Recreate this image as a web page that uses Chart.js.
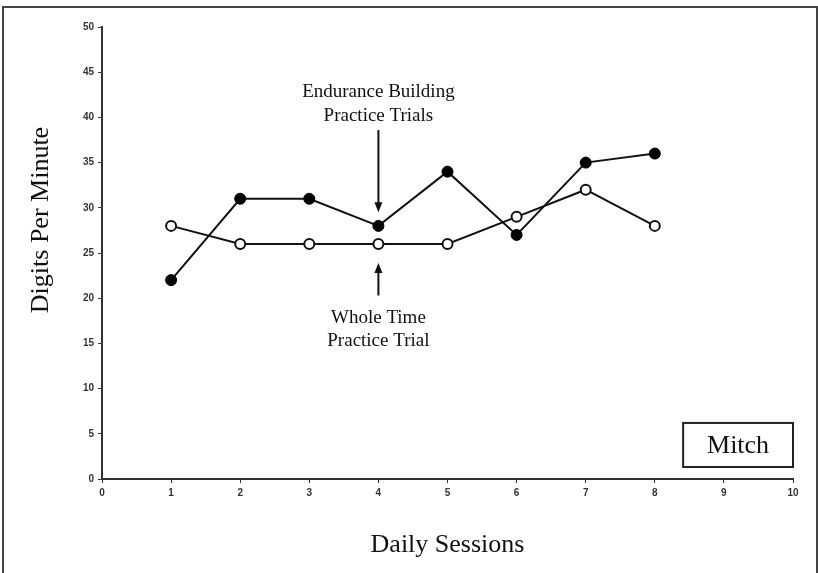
<!DOCTYPE html>
<html>
<head>
<meta charset="utf-8">
<script src="https://cdn.jsdelivr.net/npm/chart.js@4.4.1/dist/chart.umd.min.js"></script>
<style>
  html, body { margin: 0; padding: 0; background: #fff; }
  canvas { display: block; }
</style>
</head>
<body>
<canvas id="myChart" width="818" height="573"></canvas>
<script>
// 데이터 (Mitch, 일일 세션별 분당 숫자 수)
const sessions = [1, 2, 3, 4, 5, 6, 7, 8];
const enduranceScores = [22, 31, 31, 28, 34, 27, 35, 36]; // 채운 원
const wholeTimeScores = [28, 26, 26, 26, 26, 29, 32, 28]; // 빈 원
const xTicks = [0, 1, 2, 3, 4, 5, 6, 7, 8, 9, 10];
const yTicks = [0, 5, 10, 15, 20, 25, 30, 35, 40, 45, 50];

const serif = "'Liberation Serif', 'Times New Roman', serif";
const ink = '#111';

function toPoints(values){
    return sessions.map((s, i) => ({x: s, y: values[i]}));
}

// 주석 (화살표, 글씨, 이름 상자) - 축 값 기준
const notes = {
    top: {x: 4, lines: ['Endurance Building', 'Practice Trials'], lineY: [42.8, 40.2], from: 38.6, to: 29.5},
    bottom: {x: 4, lines: ['Whole Time', 'Practice Trial'], lineY: [17.8, 15.3], from: 20.3, to: 23.9},
    name: {text: 'Mitch', x0: 8.41, x1: 10, y0: 6.2, y1: 1.33}
};

function arrow(ctx, x, y1, y2){
    const dir = y2 > y1 ? 1 : -1;
    ctx.beginPath();
    ctx.moveTo(x, y1);
    ctx.lineTo(x, y2 - dir * 7);
    ctx.stroke();
    ctx.beginPath();
    ctx.moveTo(x, y2);
    ctx.lineTo(x - 4, y2 - dir * 10);
    ctx.lineTo(x + 4, y2 - dir * 10);
    ctx.closePath();
    ctx.fill();
}

const extras = {
    id: 'extras',
    afterDraw(chart){
        const ctx = chart.ctx;
        const xs = chart.scales.x, ys = chart.scales.y;
        ctx.save();
        // 바깥 테두리
        ctx.strokeStyle = '#444';
        ctx.lineWidth = 2;
        ctx.strokeRect(3, 7, 814, 620);

        ctx.fillStyle = ink;
        ctx.strokeStyle = ink;
        ctx.textAlign = 'center';
        ctx.textBaseline = 'middle';

        // 세로축 제목
        ctx.save();
        ctx.translate(41, 220);
        ctx.rotate(-Math.PI / 2);
        ctx.font = '26px ' + serif;
        ctx.fillText('Digits Per Minute', 0, 0);
        ctx.restore();

        ctx.font = '19px ' + serif;
        ctx.lineWidth = 2;
        [notes.top, notes.bottom].forEach(n => {
            const px = xs.getPixelForValue(n.x);
            n.lines.forEach((t, i) => ctx.fillText(t, px, ys.getPixelForValue(n.lineY[i])));
            arrow(ctx, px, ys.getPixelForValue(n.from), ys.getPixelForValue(n.to));
        });

        // 이름 상자
        const b = notes.name;
        const bx0 = xs.getPixelForValue(b.x0), bx1 = xs.getPixelForValue(b.x1);
        const by0 = ys.getPixelForValue(b.y0), by1 = ys.getPixelForValue(b.y1);
        ctx.strokeStyle = '#222';
        ctx.lineWidth = 2;
        ctx.strokeRect(bx0, by0, bx1 - bx0, by1 - by0);
        ctx.font = '26px ' + serif;
        ctx.fillText(b.text, (bx0 + bx1) / 2, (by0 + by1) / 2 + 1);
        ctx.restore();
    }
};

drawChart();

function drawChart(){
    const ctx = document.querySelector('#myChart');
    const tickFont = {family: "'Liberation Sans', Arial, sans-serif", size: 10, weight: 'bold'};

    new Chart(ctx, {
        type: 'line',
        data: {
            datasets: [{
                label: 'Endurance Building',
                data: toPoints(enduranceScores),
                borderColor: ink,
                borderWidth: 2,
                pointRadius: 5.5,
                pointBackgroundColor: '#000',
                pointBorderColor: '#000',
                pointBorderWidth: 1
            }, {
                label: 'Whole Time',
                data: toPoints(wholeTimeScores),
                borderColor: ink,
                borderWidth: 2,
                pointRadius: 5,
                pointBackgroundColor: '#fff',
                pointBorderColor: ink,
                pointBorderWidth: 2
            }]
        },
        options: {
            responsive: false,
            animation: false,
            layout: {padding: {top: 27, right: 25, left: 0, bottom: 0}},
            plugins: {legend: {display: false}, tooltip: {enabled: false}},
            scales: {
                x: {
                    type: 'linear',
                    min: 0,
                    max: 10,
                    afterBuildTicks: s => { s.ticks = xTicks.map(v => ({value: v})); },
                    afterFit: s => { s.height = 94; },
                    grid: {drawOnChartArea: false, drawTicks: true, tickLength: 4, color: '#333'},
                    border: {color: '#333', width: 2},
                    ticks: {color: '#333', font: tickFont, padding: 4, maxRotation: 0},
                    title: {display: true, text: 'Daily Sessions', color: ink,
                        font: {family: serif, size: 26}, padding: {top: 0, bottom: 12}}
                },
                y: {
                    min: 0,
                    max: 50,
                    afterBuildTicks: s => { s.ticks = yTicks.map(v => ({value: v})); },
                    afterFit: s => { s.width = 102; },
                    grid: {drawOnChartArea: false, drawTicks: true, tickLength: 4, color: '#333'},
                    border: {color: '#333', width: 2},
                    ticks: {color: '#333', font: tickFont, padding: 4}
                }
            }
        },
        plugins: [extras]
    });
}
</script>
</body>
</html>
